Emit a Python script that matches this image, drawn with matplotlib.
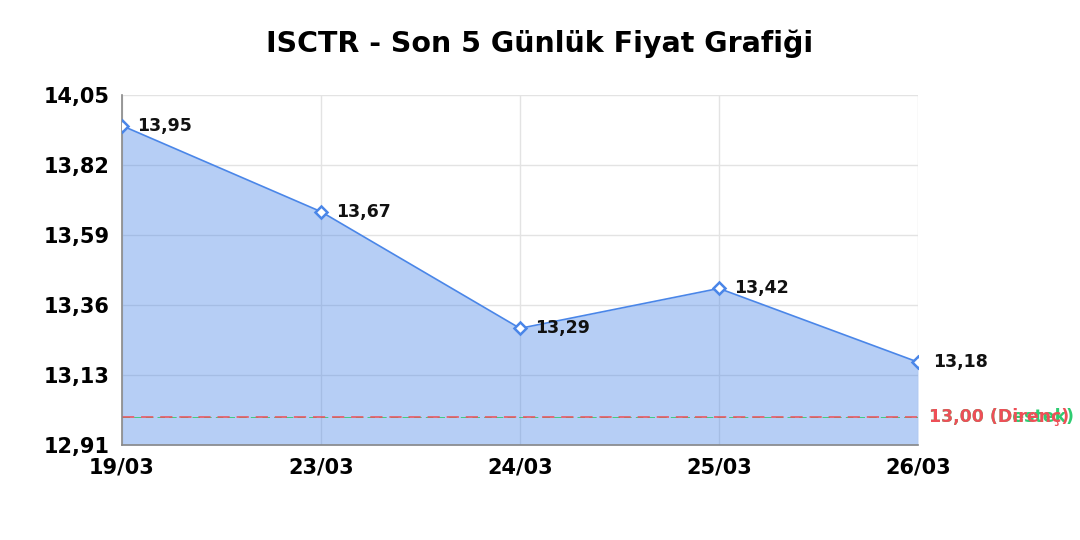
import matplotlib
matplotlib.use("Agg")
import matplotlib.pyplot as plt
import numpy as np

dates = ["19/03", "23/03", "24/03", "25/03", "26/03"]
prices = [13.95, 13.67, 13.29, 13.42, 13.18]
ytick_labels = ["12,91", "13,13", "13,36", "13,59", "13,82", "14,05"]
y_min, y_max = 12.91, 14.05
support = 13.00
resistance = 13.00
title = "ISCTR - Son 5 Günlük Fiyat Grafiği"

plt.rcParams['font.family'] = ['DejaVu Sans']

fig = plt.figure(figsize=(10.8, 5.4), dpi=100)
ax = fig.add_axes([122/1080, 1-445/540, (918-122)/1080, (445-95)/540])

x = np.arange(len(dates))
line_color = "#4a86e8"
red = "#ee4f57"
green = "#2ecc71"
ax.fill_between(x, prices, y_min, color=line_color, alpha=0.4, lw=0, zorder=1)
ax.plot(x, prices, color=line_color, lw=1.2, zorder=3)
ax.plot(x, prices, ls="none", marker="D", ms=6.5, mfc="white", mec=line_color, mew=1.8, zorder=4)

for xi, p in zip(x, prices):
    ax.annotate(f"{p:.2f}".replace(".", ","), (xi, p), xytext=(11, 0), textcoords="offset points",
                ha="left", va="center", fontsize=12.5, fontweight="bold", color="#111111", zorder=5)

ax.axhline(support, color=green, ls=(0, (9, 5)), lw=0.6, zorder=2)
ax.axhline(resistance, color=red, ls=(0, (8, 4.5)), lw=1.1, zorder=2.1)
trans = ax.get_yaxis_transform()
ax.annotate(f"{support:.2f}".replace(".", ",") + " (Destek)", (1, support), xycoords=trans,
            xytext=(8, 0), textcoords="offset points", ha="left", va="center",
            fontsize=12.5, fontweight="bold", color=green, annotation_clip=False)
ax.annotate(f"{resistance:.2f}".replace(".", ",") + " (Direnç)", (1, resistance), xycoords=trans,
            xytext=(8, 0), textcoords="offset points", ha="left", va="center",
            fontsize=12.5, fontweight="bold", color=red, annotation_clip=False)

ax.set_xlim(0, len(dates) - 1)
ax.set_ylim(y_min, y_max)
ax.set_xticks(x)
ax.set_xticklabels(dates, fontsize=15, fontweight="bold")
ax.set_yticks(np.linspace(y_min, y_max, len(ytick_labels)))
ax.set_yticklabels(ytick_labels, fontsize=15, fontweight="bold")
ax.tick_params(axis="y", length=0, pad=9)
ax.tick_params(axis="x", length=0, pad=9)
ax.grid(True, color="#e3e3e3", lw=1.0, zorder=0)
ax.set_axisbelow(True)
for s in ["top", "right"]:
    ax.spines[s].set_visible(False)
for s in ["left", "bottom"]:
    ax.spines[s].set_color("#888888")
    ax.spines[s].set_linewidth(1.2)

fig.text(540/1080, 1-44/540, title, ha="center", va="center", fontsize=20.5, fontweight="bold")

fig.savefig("out.png", dpi=100)
